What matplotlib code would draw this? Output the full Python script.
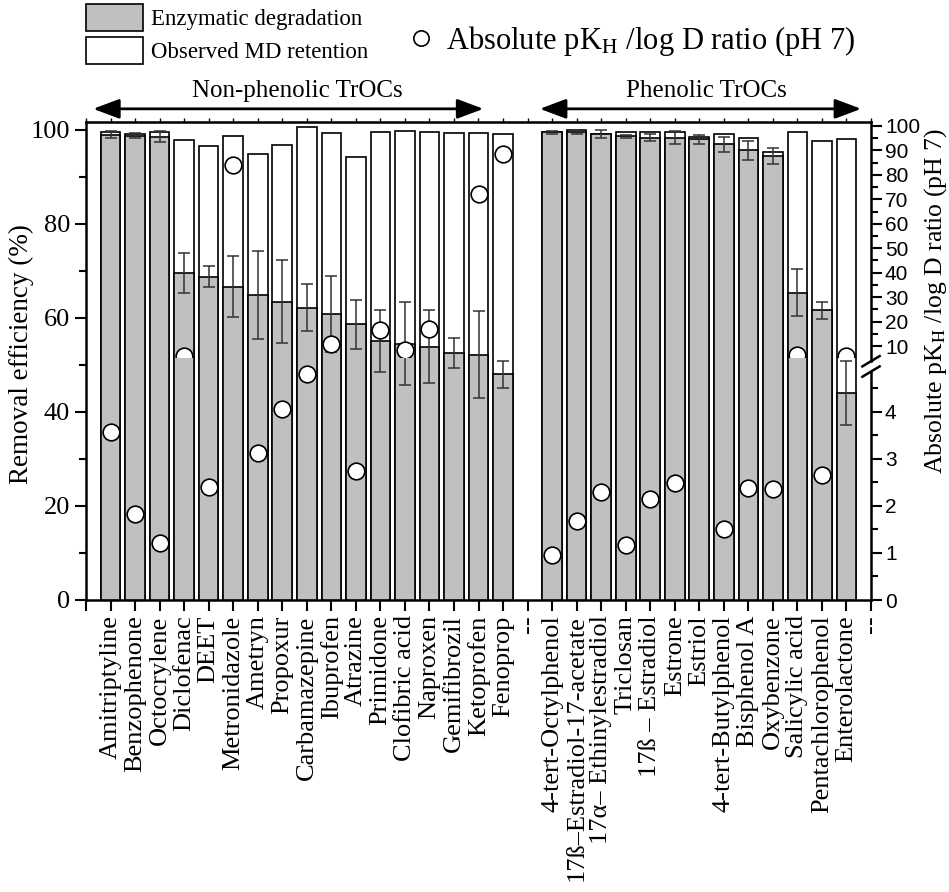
import numpy as np
import matplotlib
matplotlib.use("Agg")
import matplotlib.pyplot as plt
from matplotlib.patches import Patch, Rectangle
from matplotlib.lines import Line2D

plt.rcParams['font.family'] = ['Liberation Serif', 'DejaVu Serif']
plt.rcParams['mathtext.fontset'] = 'stix'

# ---- data ----
nonphenolic = ['Amitriptyline', 'Benzophenone', 'Octocrylene', 'Diclofenac', 'DEET',
               'Metronidazole', 'Ametryn', 'Propoxur', 'Carbamazepine', 'Ibuprofen',
               'Atrazine', 'Primidone', 'Clofibric acid', 'Naproxen', 'Gemifibrozil',
               'Ketoprofen', 'Fenoprop']
phenolic = ['4-tert-Octylphenol', '17ß–Estradiol-17-acetate', '17α– Ethinylestradiol',
            'Triclosan', '17ß – Estradiol', 'Estrone', 'Estriol', '4-tert-Butylphenol',
            'Bisphenol A', 'Oxybenzone', 'Salicylic acid', 'Pentachlorophenol',
            'Enterolactone']

# enzymatic degradation (%) and its error
deg_np = [99.0, 98.8, 98.6, 69.6, 68.8, 66.7, 64.9, 63.5, 62.2, 60.9, 58.7, 55.2, 54.5,
          53.9, 52.5, 52.2, 48.0]
err_np = [0.8, 0.5, 1.2, 4.3, 2.3, 6.4, 9.3, 8.9, 5.0, 8.1, 5.2, 6.6, 8.8, 7.7, 3.2, 9.3, 2.9]
deg_ph = [99.5, 99.6, 99.1, 98.7, 98.4, 98.4, 98.0, 97.0, 95.7, 94.5, 65.4, 61.6, 44.0]
err_ph = [0.3, 0.4, 0.8, 0.3, 0.8, 1.3, 1.0, 1.6, 2.0, 1.7, 5.0, 1.8, 6.8]

# observed MD retention (total removal, %)
tot_np = [99.5, 99.1, 99.6, 97.9, 96.5, 98.7, 94.8, 96.9, 100.7, 99.3, 94.3, 99.6, 99.8,
          99.6, 99.4, 99.4, 99.1]
tot_ph = [99.6, 99.9, 99.1, 99.5, 99.5, 99.6, 98.5, 99.1, 98.2, 95.4, 99.5, 97.7, 98.1]

# absolute pKH / log D ratio (pH 7), right axis
ratio_np = [3.58, 1.82, 1.22, 6.0, 2.41, 84.0, 3.13, 4.07, 4.81, 10.8, 2.74, 16.6, 8.4,
            17.0, np.nan, 72.0, 88.7]
ratio_ph = [0.96, 1.68, 2.30, 1.16, 2.15, 2.49, np.nan, 1.51, 2.38, 2.37, 6.3, 2.66, 6.0]

right_lo_ticks = [0, 1, 2, 3, 4]
right_hi_ticks = [10, 20, 30, 40, 50, 60, 70, 80, 90, 100]

# ---- layout ----
x_np = np.arange(1, len(nonphenolic) + 1)
x_ph = np.arange(len(nonphenolic) + 2, len(nonphenolic) + 2 + len(phenolic))
x = np.concatenate([x_np, x_ph])
degradation = np.array(deg_np + deg_ph)
deg_err = np.array(err_np + err_ph)
md_total = np.array(tot_np + tot_ph)
ratio = np.array(ratio_np + ratio_ph)
x_end = len(nonphenolic) + len(phenolic) + 2


def to_left(v):
    # broken right axis: 0-5 linear, 10-100 compressed
    v = np.asarray(v, dtype=float)
    return np.where(v < 5.2, 10.0 * v, 54.04 + 0.5201 * (v - 10.0))


GREY = '#c0c0c0'
fig = plt.figure(figsize=(9.49, 8.92), dpi=100)
ax = fig.add_axes([86 / 949, 1 - 600 / 892, 785 / 949, 478 / 892])

ax.bar(x, md_total, width=0.8, color='white', edgecolor='black', lw=1.2, zorder=2)
ax.bar(x, degradation, width=0.8, color=GREY, edgecolor='black', lw=1.2, zorder=3)
ax.errorbar(x, degradation, yerr=deg_err, fmt='none', ecolor='#333333', elinewidth=1.1,
            capsize=4, capthick=1.1, zorder=4)

ypos = to_left(ratio)
lo = ratio < 5.2
hi = ratio >= 5.2
ax.plot(x[lo], ypos[lo], 'o', ms=12, mfc='white', mec='black', mew=1.2, zorder=5)
up, = ax.plot(x[hi], ypos[hi], 'o', ms=12, mfc='white', mec='black', mew=1.2, zorder=5)
clip = Rectangle((0, 51.7), x_end, 60, transform=ax.transData)
up.set_clip_path(clip)

ax.set_xlim(0, x_end)
ax.set_ylim(0, 101.7)
labels = [''] + nonphenolic + ['--'] + phenolic + ['--']
ax.set_xticks(range(x_end + 1))
ax.set_xticklabels(labels, rotation=90, fontsize=19)
ax.set_yticks([0, 20, 40, 60, 80, 100])
ax.set_yticks([10, 30, 50, 70, 90], minor=True)
ax.tick_params(axis='y', which='major', direction='out', length=8, width=1.5, labelsize=19)
ax.tick_params(axis='y', which='minor', direction='out', length=5, width=1.5)
ax.tick_params(axis='x', direction='out', length=8, width=1.5, pad=3)
ax.set_ylabel('Removal efficiency (%)', fontsize=19.5)
ax.yaxis.set_label_coords(-0.066, 0.515)
for s in ['left', 'bottom', 'top']:
    ax.spines[s].set_linewidth(1.8)
ax.spines['right'].set_visible(False)

top = ax.secondary_xaxis('top')
top.set_xticks(range(x_end + 1))
top.tick_params(length=3, width=1, labeltop=False)

# right (broken) axis
ax2 = ax.twinx()
ax2.set_ylim(ax.get_ylim())
for s in ax2.spines.values():
    s.set_visible(False)
ax2.set_yticks(list(to_left(right_lo_ticks)) + list(to_left(right_hi_ticks)))
ax2.set_yticklabels([str(t) for t in right_lo_ticks + right_hi_ticks])
ax2.set_yticks(list(to_left(np.arange(0.5, 5, 1.0))) + list(to_left(np.arange(15, 100, 10))),
               minor=True)
ax2.tick_params(axis='y', which='major', direction='out', length=8, width=1.5,
                labelsize=15, labelfontfamily='Liberation Sans', pad=2)
ax2.tick_params(axis='y', which='minor', direction='out', length=5, width=1.5)
ax2.set_ylabel('Absolute pK$_\\mathrm{H}$ /log D ratio (pH 7)', fontsize=18.5)
ax2.yaxis.set_label_coords(1.065, 0.625)

tr = ax.get_yaxis_transform()
ax.plot([1, 1], [0, 48.6], color='black', lw=1.8, transform=tr, clip_on=False, zorder=6)
ax.plot([1, 1], [50.8, 101.7], color='black', lw=1.8, transform=tr, clip_on=False, zorder=6)
for yb in (48.6, 50.8):
    ax.plot([1 - 0.011, 1 + 0.011], [yb - 1.1, yb + 1.1], color='black', lw=1.8,
            transform=tr, clip_on=False, zorder=6)

# group arrows and titles
arrow = dict(arrowstyle='<|-|>,head_length=0.8,head_width=0.3', color='black', lw=2,
             shrinkA=0, shrinkB=0, mutation_scale=20)
ax.annotate('', xy=(0.29, 104.5), xytext=(16.2, 104.5), arrowprops=arrow,
            annotation_clip=False)
ax.annotate('', xy=(18.5, 104.5), xytext=(31.6, 104.5), arrowprops=arrow,
            annotation_clip=False)
ax.text(8.6, 108.4, 'Non-phenolic TrOCs', fontsize=18, ha='center', va='center')
ax.text(25.3, 108.4, 'Phenolic TrOCs', fontsize=18, ha='center', va='center')

# legends
h1 = Patch(facecolor=GREY, edgecolor='black', lw=1.2, label='Enzymatic degradation')
h2 = Patch(facecolor='white', edgecolor='black', lw=1.2, label='Observed MD retention')
fig.legend(handles=[h1, h2], loc='upper left', bbox_to_anchor=(86 / 949, 1 - 4 / 892),
           frameon=False, fontsize=16.5, handlelength=2.5, handleheight=1.45,
           handletextpad=0.35, labelspacing=0.24, borderpad=0, borderaxespad=0)
h3 = Line2D([], [], marker='o', ls='none', ms=11, mfc='white', mec='black', mew=1.2,
            label='Absolute pK$_\\mathrm{H}$ /log D ratio (pH 7)')
fig.legend(handles=[h3], loc='center left', bbox_to_anchor=(406 / 949, 1 - 41 / 892),
           frameon=False, fontsize=22, handlelength=1.0, handletextpad=0.3,
           borderpad=0, borderaxespad=0)

fig.savefig('out.png', dpi=100)
